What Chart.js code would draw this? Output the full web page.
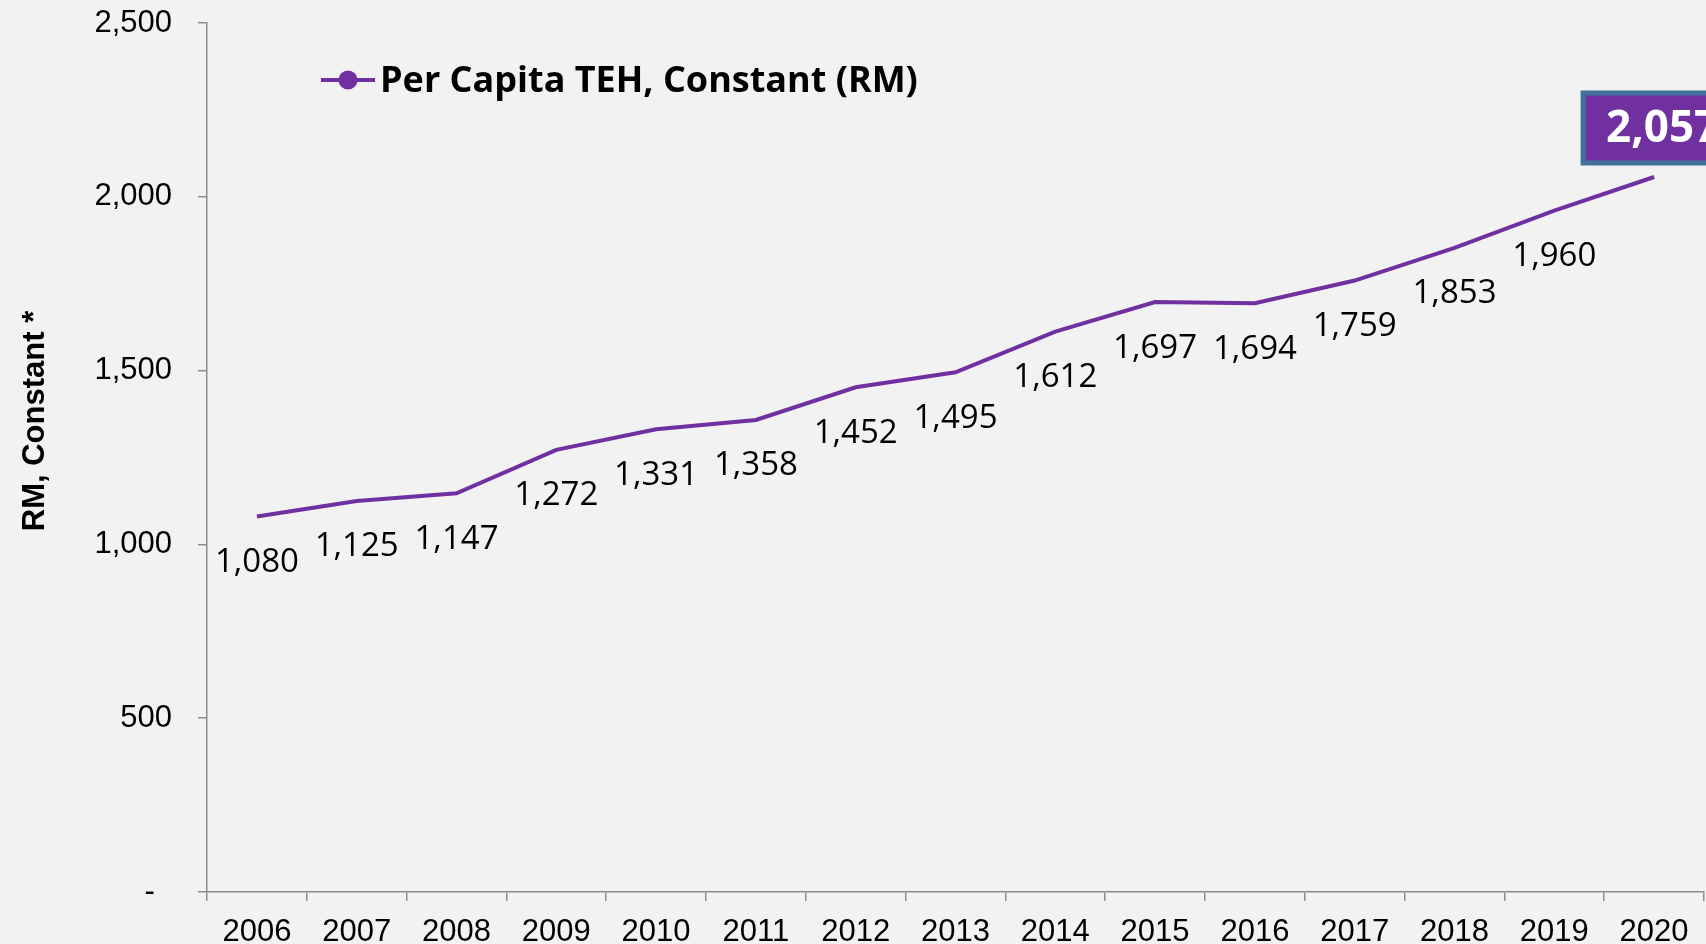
<!DOCTYPE html>
<html>
<head>
<meta charset="utf-8">
<title>Per Capita TEH, Constant (RM)</title>
<script src="https://cdn.jsdelivr.net/npm/chart.js@4"></script>
<style>
    html, body { margin: 0; padding: 0; background: #f2f2f2; }
    #wrap { width: 1706px; height: 944px; position: relative; }
</style>
</head>
<body>
<div id="wrap"><canvas id="teh-chart"></canvas></div>
<script>
// Per capita total expenditure on health, constant prices (RM)
const years = ['2006', '2007', '2008', '2009', '2010', '2011', '2012', '2013',
    '2014', '2015', '2016', '2017', '2018', '2019', '2020'];
const perCapitaTEH = [1080, 1125, 1147, 1272, 1331, 1358, 1452, 1495,
    1612, 1697, 1694, 1759, 1853, 1960, 2057];
const seriesName = 'Per Capita TEH, Constant (RM)';
const yTitle = 'RM, Constant *';

const purple = '#7030a0';
const axisGray = '#8c8c8c';

const fmt = v => v === 0 ? '-  ' : v.toLocaleString('en-US');

// Draws value labels, the highlighted last value, legend and y title
const decorations = {
    id: 'decorations',
    afterDatasetsDraw(chart) {
        const ctx = chart.ctx;
        const meta = chart.getDatasetMeta(0);
        const last = meta.data.length - 1;

        ctx.save();
        ctx.fillStyle = '#000';
        ctx.font = '33px "Open Sans"';
        ctx.textAlign = 'center';
        ctx.textBaseline = 'middle';
        meta.data.forEach((pt, i) => {
            if (i === last) return;
            ctx.fillText(fmt(perCapitaTEH[i]), pt.x, pt.y + 46);
        });

        // boxed label for the latest year
        const p = meta.data[last];
        const bx = p.x - 71, by = p.y - 84, bw = 150, bh = 70;
        ctx.fillStyle = purple;
        ctx.fillRect(bx, by, bw, bh);
        ctx.strokeStyle = '#41719c';
        ctx.lineWidth = 5;
        ctx.strokeRect(bx, by, bw, bh);
        ctx.fillStyle = '#fff';
        ctx.font = 'bold 44px "Open Sans"';
        ctx.textAlign = 'left';
        ctx.fillText(fmt(perCapitaTEH[last]), bx + 23, by + bh / 2 + 1);

        // legend
        ctx.strokeStyle = purple;
        ctx.lineWidth = 4;
        ctx.beginPath();
        ctx.moveTo(321, 80);
        ctx.lineTo(375, 80);
        ctx.stroke();
        ctx.fillStyle = purple;
        ctx.beginPath();
        ctx.arc(348, 80, 9.5, 0, Math.PI * 2);
        ctx.fill();
        ctx.fillStyle = '#000';
        ctx.font = 'bold 36px "Open Sans"';
        ctx.fillText(seriesName, 380, 82);

        // y axis title
        ctx.translate(35, 421);
        ctx.rotate(-Math.PI / 2);
        ctx.textAlign = 'center';
        ctx.font = 'bold 31px "Liberation Sans", Arial';
        ctx.fillText(yTitle, 0, 0);
        ctx.restore();
    }
};

new Chart(document.getElementById('teh-chart'), {
    type: 'line',
    data: {
        labels: years,
        datasets: [{
            label: seriesName,
            data: perCapitaTEH,
            borderColor: purple,
            borderWidth: 4,
            pointRadius: 0,
            tension: 0
        }]
    },
    options: {
        responsive: true,
        maintainAspectRatio: false,
        animation: false,
        layout: { padding: { top: 23, right: 2, left: 0, bottom: 0 } },
        plugins: {
            legend: { display: false },
            tooltip: { enabled: false }
        },
        scales: {
            x: {
                offset: true,
                grid: { drawOnChartArea: false, offset: true, color: axisGray, tickLength: 9, lineWidth: 1.5 },
                border: { color: axisGray, width: 1.5 },
                ticks: { color: '#000', font: { family: '"Liberation Sans", Arial', size: 31 }, padding: 13, maxRotation: 0 },
                afterFit: s => { s.height = 52; s.paddingLeft = 0; s.paddingRight = 0; }
            },
            y: {
                min: 0,
                max: 2500,
                grid: { drawOnChartArea: false, color: axisGray, tickLength: 9, lineWidth: 1.5 },
                border: { color: axisGray, width: 1.5 },
                ticks: {
                    stepSize: 500,
                    color: '#000',
                    padding: 26,
                    font: { family: '"Liberation Sans", Arial', size: 31 },
                    callback: v => fmt(v)
                },
                afterFit: s => { s.width = 207; s.paddingTop = 0; s.paddingBottom = 0; }
            }
        }
    },
    plugins: [decorations]
});
</script>
</body>
</html>
